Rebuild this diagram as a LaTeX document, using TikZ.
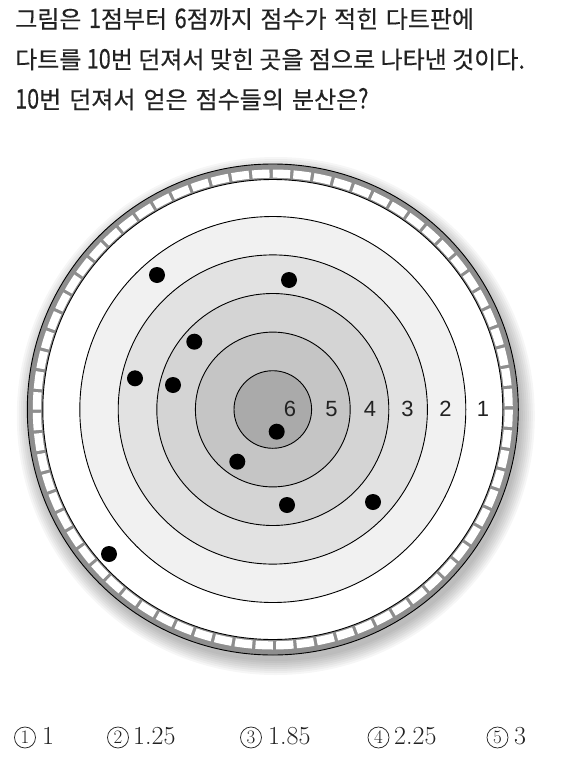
\documentclass[tikz,border=0pt]{standalone}
\usepackage{fontspec}
\usepackage{graphicx}
\newfontfamily\kr[FakeBold=0.3]{Noto Sans CJK KR}
\newfontfamily\lab{Liberation Sans}
\newcommand\qd[1]{\scalebox{0.8}[1]{\fontsize{27}{27}\selectfont #1}}
\newcommand\chd[1]{{\fontsize{26}{26}\selectfont #1}}
\definecolor{ink}{HTML}{222222}
\definecolor{rsix}{HTML}{AAAAAA}
\definecolor{rfive}{HTML}{C5C5C5}
\definecolor{rfour}{HTML}{D4D4D4}
\definecolor{rthree}{HTML}{E2E2E2}
\definecolor{rtwo}{HTML}{F1F1F1}
\definecolor{rimgray}{HTML}{8E8E8E}
\begin{document}
\begin{tikzpicture}[x=1pt,y=-1pt,
  qline/.style={anchor=base west, inner sep=0pt, text=ink, font=\kr\fontsize{24}{24}\selectfont},
  ring/.style={draw=black, line width=0.9pt},
  dot/.style={circle, fill=black, minimum size=16pt, inner sep=0pt},
  score/.style={font=\lab\fontsize{22}{22}\selectfont, text=ink, inner sep=0pt},
  cnum/.style={circle, draw=ink, line width=0.75pt, minimum size=21pt, inner sep=0pt, text=ink, font=\fontsize{19}{19}\selectfont},
  choice/.style={anchor=base west, inner sep=0pt, text=ink}]
\useasboundingbox (0,0) rectangle (588,768);
\fill[white] (0,0) rectangle (588,768);
% question
\node[qline] (q1) at (15,28) {\spaceskip=7.5pt 그림은 \qd{1}점부터 \qd{6}점까지 점수가 적힌 다트판에};
\node[qline] (q2) at (15,68.5) {다트를 \qd{10}번 던져서 맞힌 곳을 점으로 나타낸 것이다.};
\node[qline] (q3) at (15,108.5) {\spaceskip=8pt \qd{10}번 던져서 얻은 점수들의 분산은\qd{?}};
% board
\coordinate (c) at (272.8,409.5);
\begin{scope}[shift={(275.8,416)}]
  \foreach \d in {14,12,...,0} {\fill[black,opacity=0.035] (0,0) circle[radius=245+\d];}
\end{scope}
\begin{scope}[shift={(c)}]
  \fill[rimgray] (0,0) circle[radius=245.5];
  \foreach \a in {0,5,...,355} {
    \fill[white] (\a:240) arc[start angle=\a, end angle=\a+4.2, radius=240]
      -- (\a+4.2:231.8) arc[start angle=\a+4.2, end angle=\a, radius=231.8] -- cycle;
  }
  \draw[black,line width=0.9pt] (0,0) circle[radius=245.5];
  \draw[ring,fill=white] (0,0) circle[radius=230];
  \draw[ring,fill=rtwo] (0,0) circle[radius=193];
  \draw[ring,fill=rthree] (0,0) circle[radius=154.6];
  \draw[ring,fill=rfour] (0,0) circle[radius=116];
  \draw[ring,fill=rfive] (0,0) circle[radius=77.4];
  \draw[ring,fill=rsix] (0,0) circle[radius=38.8];
\end{scope}
% scores
\node[score] (s6) at (290,409) {6};
\node[score] (s5) at (331.5,409) {5};
\node[score] (s4) at (370,409) {4};
\node[score] (s3) at (407.5,409) {3};
\node[score] (s2) at (445.5,409) {2};
\node[score] (s1) at (483,409) {1};
% darts
\node[dot] (d1) at (157,275) {};
\node[dot] (d2) at (289,280) {};
\node[dot] (d3) at (194.3,341.7) {};
\node[dot] (d4) at (135,378.3) {};
\node[dot] (d5) at (173,385) {};
\node[dot] (d6) at (276.7,431.7) {};
\node[dot] (d7) at (237.3,461.7) {};
\node[dot] (d8) at (287,505) {};
\node[dot] (d9) at (373,502) {};
\node[dot] (d10) at (109,554) {};
% choices
\node[cnum] (k1) at (25,737.5) {1};
\node[choice] (v1) at (42,744) {\chd{1}};
\node[cnum] (k2) at (118,737.5) {2};
\node[choice] (v2) at (133,744) {\chd{1.25}};
\node[cnum] (k3) at (251,737.5) {3};
\node[choice] (v3) at (268,744) {\chd{1.85}};
\node[cnum] (k4) at (378.5,737.5) {4};
\node[choice] (v4) at (394,744) {\chd{2.25}};
\node[cnum] (k5) at (497.5,737.5) {5};
\node[choice] (v5) at (514,744) {\chd{3}};
\end{tikzpicture}
\end{document}
